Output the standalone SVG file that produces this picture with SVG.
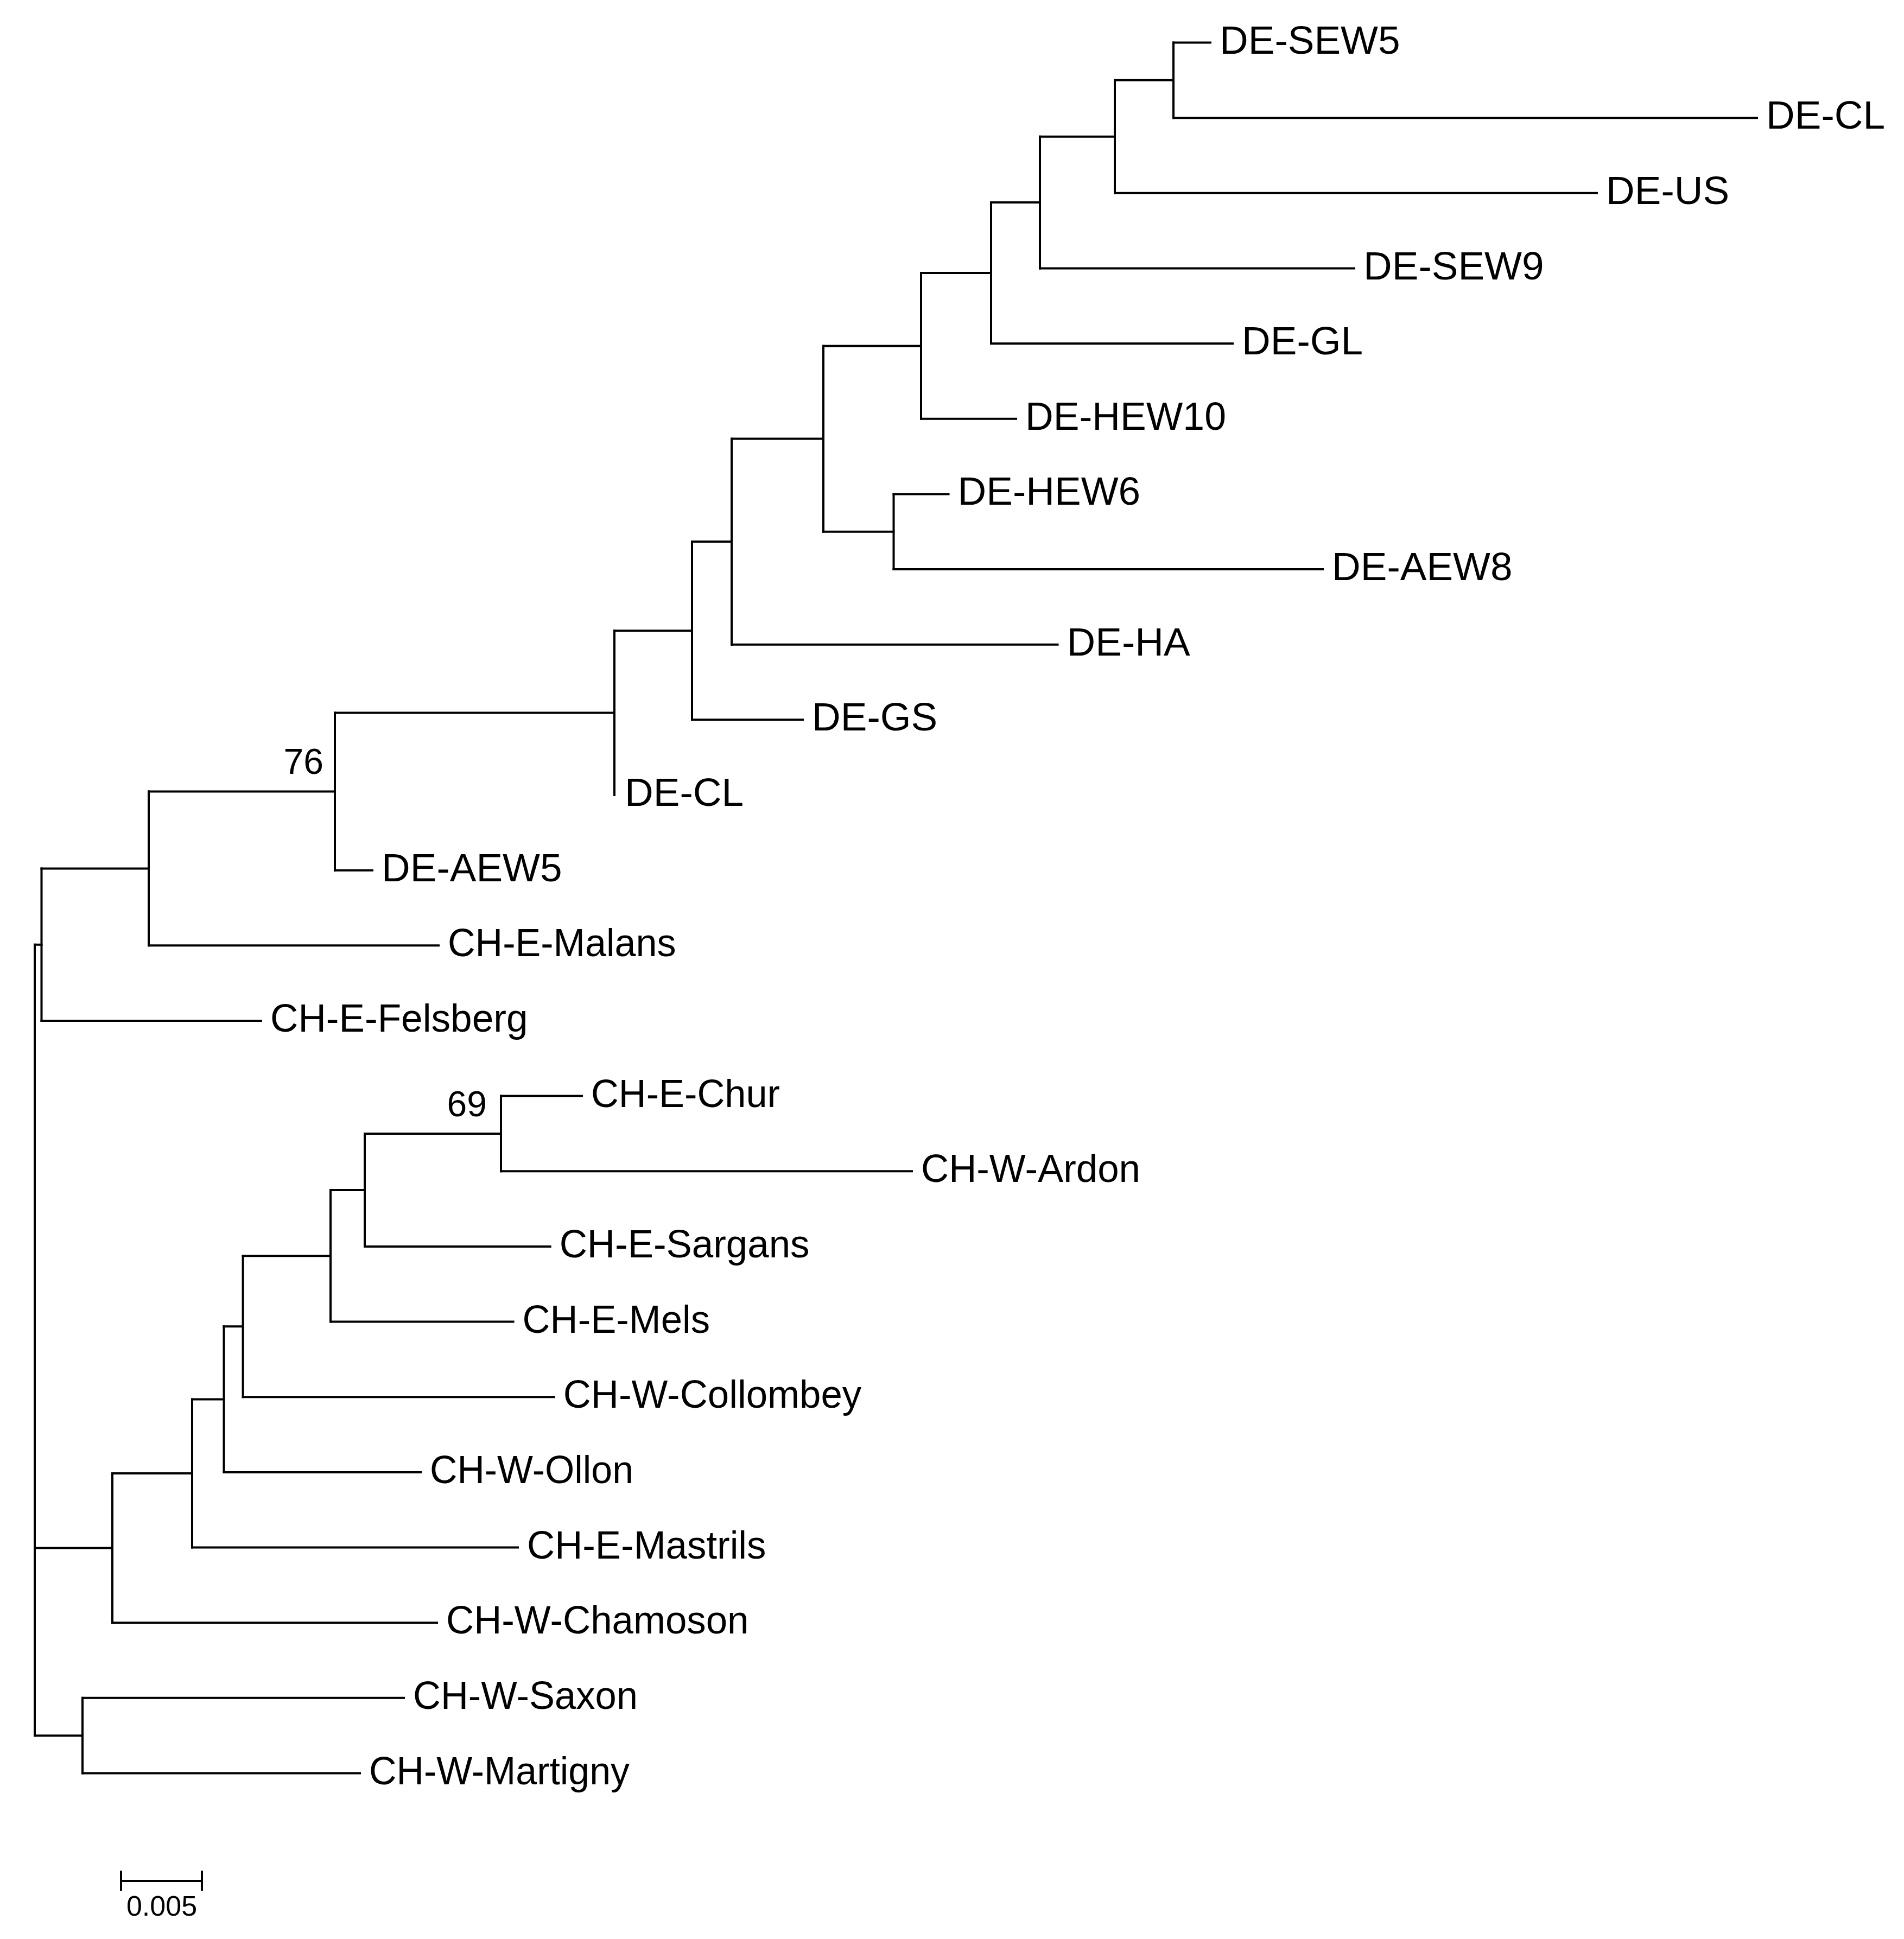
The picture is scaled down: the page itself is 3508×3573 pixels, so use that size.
<svg xmlns="http://www.w3.org/2000/svg" width="3508" height="3573" viewBox="0 0 3508 3573">
<style>
.br{fill:none;stroke:#000;stroke-width:4;stroke-linecap:square}
.lb{font-family:"Liberation Sans",Arial,sans-serif;font-size:73px;fill:#000}
.bs{font-family:"Liberation Sans",Arial,sans-serif;font-size:66px;fill:#000;text-anchor:end}
.sc{font-family:"Liberation Sans",Arial,sans-serif;font-size:52px;fill:#000;text-anchor:middle}
</style>
<rect width="3508" height="3573" fill="#fff"/>
<g id="connectors" class="br">
<path d="M2162,78.5H2230M2162,217.2H3237M2054,355.8H2942M1916,494.5H2495M1826,633.1H2271M1697,771.8H1872M1646.5,910.4H1747.5M1646.5,1049H2437M1348,1187.7H1948.5M1275,1326.3H1479M617,1603.7H686M274,1742.3H808M76.5,1881H481M923,2019.6H1072M923,2158.3H1680M672,2296.9H1013.7M609,2435.6H945.6M447.6,2574.2H1020.7M412.5,2712.9H775M354,2851.5H954M207,2990.2H805M152,3128.8H744M152,3267.5H663"/>
<path d="M2162,78.5V217.2M2054,147.8V355.8M1916,251.8V494.5M1826,373.1V633.1M1697,503.1V771.8M1646.5,910.4V1049M1517,637.4V979.7M1348,808.6V1187.7M1275,998.1V1326.3M1132,1162.2V1465M617,1313.6V1603.7M274,1458.6V1742.3M76.5,1600.5V1881M923,2019.6V2158.3M672,2089V2296.9M609,2193V2435.6M447.6,2314.3V2574.2M412.5,2444.3V2712.9M354,2578.6V2851.5M207,2715V2990.2M152,3128.8V3267.5M64,1740.7V3198.2"/>
<path d="M2054,147.8H2162M1916,251.8H2054M1826,373.1H1916M1697,503.1H1826M1517,637.4H1697M1517,979.7H1646.5M1348,808.6H1517M1275,998.1H1348M1132,1162.2H1275M617,1313.6H1132M274,1458.6H617M76.5,1600.5H274M64,1740.7H76.5M672,2089H923M609,2193H672M447.6,2314.3H609M412.5,2444.3H447.6M354,2578.6H412.5M207,2715H354M64,2852.6H207M64,3198.2H152"/>
</g>
<g id="leaf-DE-SEW5"><text class="lb" x="2247" y="98.5">DE-SEW5</text></g>
<g id="leaf-DE-CL-1"><text class="lb" x="3254" y="237.2">DE-CL</text></g>
<g id="leaf-DE-US"><text class="lb" x="2959" y="375.8">DE-US</text></g>
<g id="leaf-DE-SEW9"><text class="lb" x="2512" y="514.5">DE-SEW9</text></g>
<g id="leaf-DE-GL"><text class="lb" x="2288" y="653.1">DE-GL</text></g>
<g id="leaf-DE-HEW10"><text class="lb" x="1889" y="791.8" textLength="370" lengthAdjust="spacingAndGlyphs">DE-HEW10</text></g>
<g id="leaf-DE-HEW6"><text class="lb" x="1764.5" y="930.4">DE-HEW6</text></g>
<g id="leaf-DE-AEW8"><text class="lb" x="2454" y="1069">DE-AEW8</text></g>
<g id="leaf-DE-HA"><text class="lb" x="1965.5" y="1207.7">DE-HA</text></g>
<g id="leaf-DE-GS"><text class="lb" x="1496" y="1346.3">DE-GS</text></g>
<g id="leaf-DE-CL-2"><text class="lb" x="1151" y="1485">DE-CL</text></g>
<g id="leaf-DE-AEW5"><text class="lb" x="703" y="1623.7">DE-AEW5</text></g>
<g id="leaf-CH-E-Malans"><text class="lb" x="825" y="1762.3" textLength="420.5" lengthAdjust="spacingAndGlyphs">CH-E-Malans</text></g>
<g id="leaf-CH-E-Felsberg"><text class="lb" x="498" y="1901" textLength="474.5" lengthAdjust="spacingAndGlyphs">CH-E-Felsberg</text></g>
<g id="leaf-CH-E-Chur"><text class="lb" x="1089" y="2039.6" textLength="348" lengthAdjust="spacingAndGlyphs">CH-E-Chur</text></g>
<g id="leaf-CH-W-Ardon"><text class="lb" x="1697" y="2178.3" textLength="404" lengthAdjust="spacingAndGlyphs">CH-W-Ardon</text></g>
<g id="leaf-CH-E-Sargans"><text class="lb" x="1030.7" y="2316.9" textLength="460.8" lengthAdjust="spacingAndGlyphs">CH-E-Sargans</text></g>
<g id="leaf-CH-E-Mels"><text class="lb" x="962.6" y="2455.6" textLength="345.4" lengthAdjust="spacingAndGlyphs">CH-E-Mels</text></g>
<g id="leaf-CH-W-Collombey"><text class="lb" x="1037.7" y="2594.2" textLength="549.5" lengthAdjust="spacingAndGlyphs">CH-W-Collombey</text></g>
<g id="leaf-CH-W-Ollon"><text class="lb" x="792" y="2732.9" textLength="375" lengthAdjust="spacingAndGlyphs">CH-W-Ollon</text></g>
<g id="leaf-CH-E-Mastrils"><text class="lb" x="971" y="2871.5" textLength="440.5" lengthAdjust="spacingAndGlyphs">CH-E-Mastrils</text></g>
<g id="leaf-CH-W-Chamoson"><text class="lb" x="822" y="3010.2" textLength="557.5" lengthAdjust="spacingAndGlyphs">CH-W-Chamoson</text></g>
<g id="leaf-CH-W-Saxon"><text class="lb" x="761" y="3148.8" textLength="414" lengthAdjust="spacingAndGlyphs">CH-W-Saxon</text></g>
<g id="leaf-CH-W-Martigny"><text class="lb" x="680" y="3287.5" textLength="480" lengthAdjust="spacingAndGlyphs">CH-W-Martigny</text></g>
<g id="bootstrap-76"><text class="bs" x="596" y="1426">76</text></g>
<g id="bootstrap-69"><text class="bs" x="897" y="2057">69</text></g>
<g id="scale-bar">
<path class="br" d="M223,3466H372M223,3447V3484M372,3447V3484" style="stroke-linecap:butt"/>
<text class="sc" x="298" y="3530">0.005</text>
</g>
</svg>
